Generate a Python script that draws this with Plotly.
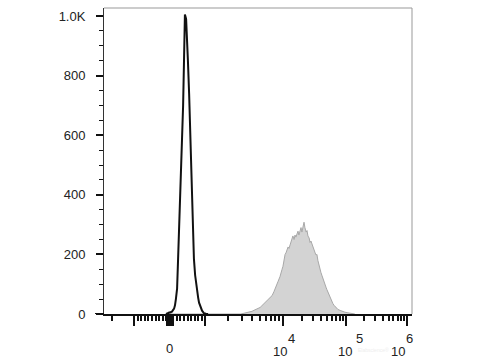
import numpy as np
import plotly.graph_objects as go

# ---- data (x in display channels 0-1024 of a biexponential axis, y = event count) ----
ctrl_ch = [206, 213, 219, 226, 233, 236, 239, 243, 246, 249, 253, 256, 259, 263, 266, 269,
           273, 276, 279, 283, 286, 289, 293, 296, 299, 303, 306, 309, 313, 316, 319, 322,
           326, 329, 332, 339, 346]
ctrl_cnt = [0, 2, 4, 8, 18, 29, 50, 85, 175, 260, 350, 450, 560, 700, 850, 1005,
            990, 930, 850, 740, 620, 516, 400, 290, 185, 130, 100, 79, 55, 38, 28, 18,
            11, 7, 3, 1, 0]

stain_ch = [209, 213, 216, 219, 223, 226,
            455, 459, 469, 479, 485, 492, 502, 512, 519, 525, 532, 539, 545, 552, 559, 565,
            572, 579, 585, 588, 592, 595, 598, 602, 605, 608, 612, 615, 618, 622, 625,
            628, 632, 635, 638, 642, 645, 648, 652, 655, 658, 662, 665, 668, 672, 675,
            678, 682, 685, 688, 692, 695, 698, 702, 705, 708, 711, 715, 718, 721, 725,
            728, 731, 735, 738, 741, 745, 748, 751, 755, 758, 761, 765, 768, 771, 775,
            778, 785, 791, 801, 811, 821, 834]
stain_cnt = [0, 6, 9, 4, 0, 0,
             0, 1, 3, 5, 7, 9, 14, 18, 22, 28, 34, 40, 48, 55, 62, 75,
             90, 110, 125, 140, 150, 160, 180, 200, 205, 215, 225, 220, 232, 245, 258,
             262, 250, 265, 258, 270, 278, 265, 285, 290, 275, 300, 308, 290, 275, 280,
             262, 255, 240, 245, 232, 222, 212, 205, 198, 200, 180, 160, 150, 140, 128,
             118, 106, 100, 90, 82, 72, 64, 58, 50, 42, 35, 29, 25, 22, 19,
             15, 12, 9, 6, 4, 2, 0]

# axis anchors of the biexponential display (value -> channel)
lin_zero = 219.4
lin_pos_slope = 0.1164   # channels per unit, 0..1000
lin_neg_slope = 0.1197   # channels per unit, -1000..0
dec_exp = [3, 4, 5, 6]
dec_ch = [335.8, 595.1, 804.6, 1007.4]
neg_dec_exp = [3, 4]
neg_dec_ch = [99.7, -143.0]

major_vals = [-1000, 0, 1000, 1e4, 1e5, 1e6]
block_vals = [v for v in range(-90, 100, 10) if v != 0]
minor_vals = ([-2000] + [-100 * k for k in range(1, 10)] + [100 * k for k in range(1, 10)]
              + [m * 10 ** e for e in (3, 4, 5) for m in range(2, 10)])

# x labels: value, mantissa text, exponent text
x_label_vals = [0, 1e4, 1e5, 1e6]
x_label_base = ["0", "10", "10", "10"]
x_label_exp = ["", "4", "5", "6"]

y_major = [0, 200, 400, 600, 800, 1000]
y_text = ["0", "200", "400", "600", "800", "1.0K"]


def disp(v):
    if -1000 <= v <= 1000:
        return lin_zero + v * (lin_pos_slope if v >= 0 else lin_neg_slope)
    if v > 1000:
        return float(np.interp(np.log10(v), dec_exp, dec_ch))
    return float(np.interp(np.log10(-v), neg_dec_exp, neg_dec_ch))


FAM = "Liberation Sans, Arial, sans-serif"
font = dict(family=FAM, size=13, color="#222222")

fig = go.Figure()
fig.add_trace(go.Scatter(x=stain_ch, y=stain_cnt, mode="lines", fill="tozeroy",
                         fillcolor="#d3d3d3", line=dict(color="#a8a8a8", width=1),
                         xaxis="x", yaxis="y", showlegend=False, hoverinfo="skip"))
fig.add_trace(go.Scatter(x=ctrl_ch, y=ctrl_cnt, mode="lines",
                         line=dict(color="#111111", width=2),
                         xaxis="x", yaxis="y", showlegend=False, hoverinfo="skip"))
# dummy trace so xaxis2 is rendered
fig.add_trace(go.Scatter(x=[None], y=[None], xaxis="x2", yaxis="y", showlegend=False))

x_range = [0, 1024]
common_x = dict(range=x_range, showgrid=False, zeroline=False, fixedrange=True)

fig.update_layout(
    width=480, height=360,
    margin=dict(l=104, r=68, t=8, b=46),
    paper_bgcolor="white", plot_bgcolor="white",
    font=font,
    xaxis=dict(**common_x,
               tickmode="array",
               tickvals=[disp(v) for v in major_vals] + [disp(v) for v in block_vals],
               ticktext=[""] * (len(major_vals) + len(block_vals)),
               ticks="outside", ticklen=10, tickwidth=2, tickcolor="#111111",
               showline=True, linecolor="#111111", linewidth=2),
    xaxis2=dict(**common_x, overlaying="x", side="bottom", anchor="y",
                tickmode="array", tickvals=[disp(v) for v in minor_vals],
                ticks="outside", ticklen=6, tickwidth=1.5, tickcolor="#111111",
                showticklabels=False, showline=False),
    yaxis=dict(range=[0, 1027], showgrid=False, zeroline=False, fixedrange=True,
               tickmode="array", tickvals=y_major, ticktext=y_text,
               ticks="outside", ticklen=7, tickwidth=2, tickcolor="#111111",
               minor=dict(dtick=50, tick0=0, ticks="outside", ticklen=4, tickwidth=1,
                          tickcolor="#111111"),
               showline=True, linecolor="#333333", linewidth=1,
               ticklabelstandoff=8, tickfont=font),
)

# x tick labels (mantissa + raised exponent, FlowJo style)
base_shift = [0, -3, -1, -9]
exp_shift = [0, 12, 14, 11]
for v, b, e, bs, es in zip(x_label_vals, x_label_base, x_label_exp, base_shift, exp_shift):
    fig.add_annotation(text=b, x=disp(v), xref="x", y=0, yref="paper", xshift=bs,
                       yshift=-37 if e else -34, showarrow=False, font=font,
                       borderpad=0, xanchor="center", yanchor="middle")
    if e:
        fig.add_annotation(text=e, x=disp(v), xref="x", y=0, yref="paper", xshift=bs + es,
                           yshift=-24, showarrow=False, font=font, borderpad=0,
                           xanchor="center", yanchor="middle")

# frame: gray top/right borders, axis line extended to the left
fig.add_shape(type="line", xref="paper", yref="paper", x0=0, x1=1, y0=1, y1=1,
              line=dict(color="#999999", width=1))
fig.add_shape(type="line", xref="paper", yref="paper", x0=1, x1=1, y0=0, y1=1,
              line=dict(color="#999999", width=1))
fig.add_shape(type="line", xref="paper", yref="y", x0=-9 / 308, x1=0, y0=0, y1=0,
              line=dict(color="#111111", width=2))

# faint watermark
fig.add_annotation(text="Elabscience®", xref="paper", yref="paper", x=0.93, y=0,
                   yshift=-40, showarrow=False, borderpad=0,
                   font=dict(family=FAM, size=5, color="#eeeeee"))

fig.write_html("out.html")
